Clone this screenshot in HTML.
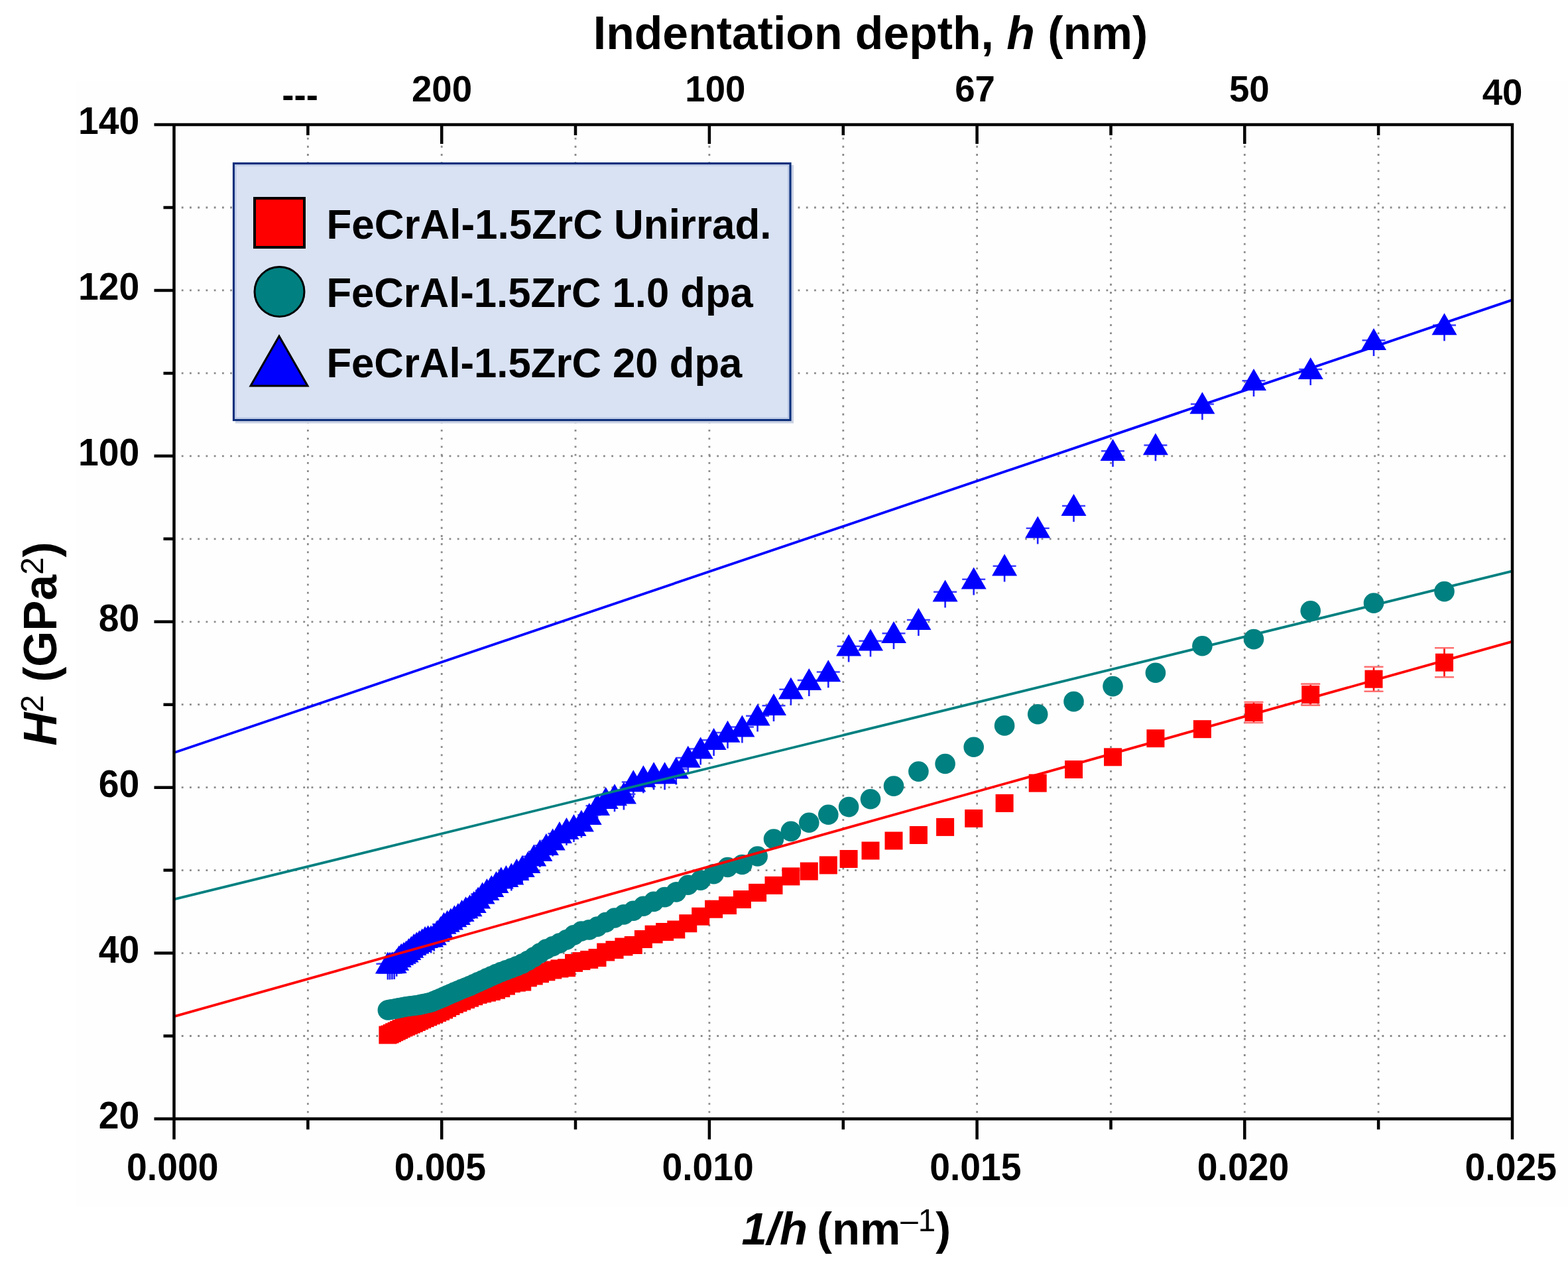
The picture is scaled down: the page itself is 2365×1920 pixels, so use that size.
<!DOCTYPE html><html><head><meta charset="utf-8"><style>html,body{margin:0;padding:0;background:#fff;}svg{display:block}text{font-family:"Liberation Sans", Arial, sans-serif;font-weight:bold;fill:#000}</style></head><body>
<svg width="2365" height="1920" viewBox="0 0 2365 1920">
<rect x="0" y="0" width="2365" height="1920" fill="#fff"/>
<rect x="114.5" y="122.5" width="2250.5" height="1697.5" fill="#fefefe"/>
<path d="M464.4 195.4V1680M666.2 195.4V1680M868.0 195.4V1680M1069.9 195.4V1680M1271.8 195.4V1680M1473.6 195.4V1680M1675.5 195.4V1680M1877.3 195.4V1680M2079.1 195.4V1680M273.8 1562.5H2272M273.8 1437.6H2272M273.8 1312.6H2272M273.8 1187.7H2272M273.8 1062.7H2272M273.8 937.8H2272M273.8 812.8H2272M273.8 687.8H2272M273.8 562.9H2272M273.8 437.9H2272M273.8 313.0H2272" stroke="#8a8a8a" stroke-width="2.8" stroke-dasharray="2.8 9.434" fill="none"/>
<path d="M2178.5 977.2V1021.2M2072.0 1005.7V1042.7M1976.7 1031.6V1063.6M1891.0 1059.0V1090.0" stroke="#ff0000" stroke-width="2.6" fill="none"/>
<path d="M2164.0 977.2H2193.0M2164.0 1021.2H2193.0M2057.5 1005.7H2086.5M2057.5 1042.7H2086.5M1962.2 1031.6H1991.2M1962.2 1063.6H1991.2M1876.5 1059.0H1905.5M1876.5 1090.0H1905.5" stroke="#ff7070" stroke-width="2.6" fill="none"/>
<g fill="#ff0000"><rect x="571.4" y="1547.5" width="27.0" height="27.0"/><rect x="574.6" y="1546.5" width="27.0" height="27.0"/><rect x="577.9" y="1544.9" width="27.0" height="27.0"/><rect x="581.2" y="1543.2" width="27.0" height="27.0"/><rect x="584.7" y="1541.6" width="27.0" height="27.0"/><rect x="588.2" y="1539.9" width="27.0" height="27.0"/><rect x="591.7" y="1538.1" width="27.0" height="27.0"/><rect x="595.4" y="1536.4" width="27.0" height="27.0"/><rect x="599.1" y="1534.8" width="27.0" height="27.0"/><rect x="602.9" y="1533.2" width="27.0" height="27.0"/><rect x="606.8" y="1531.5" width="27.0" height="27.0"/><rect x="610.8" y="1529.8" width="27.0" height="27.0"/><rect x="614.8" y="1528.0" width="27.0" height="27.0"/><rect x="619.0" y="1526.1" width="27.0" height="27.0"/><rect x="623.2" y="1524.1" width="27.0" height="27.0"/><rect x="627.6" y="1522.1" width="27.0" height="27.0"/><rect x="632.1" y="1520.2" width="27.0" height="27.0"/><rect x="636.6" y="1518.2" width="27.0" height="27.0"/><rect x="641.3" y="1516.2" width="27.0" height="27.0"/><rect x="646.1" y="1514.1" width="27.0" height="27.0"/><rect x="651.0" y="1512.0" width="27.0" height="27.0"/><rect x="656.0" y="1509.5" width="27.0" height="27.0"/><rect x="661.1" y="1506.8" width="27.0" height="27.0"/><rect x="666.4" y="1504.0" width="27.0" height="27.0"/><rect x="671.9" y="1501.2" width="27.0" height="27.0"/><rect x="677.4" y="1498.9" width="27.0" height="27.0"/><rect x="683.1" y="1496.5" width="27.0" height="27.0"/><rect x="689.0" y="1494.1" width="27.0" height="27.0"/><rect x="695.0" y="1491.7" width="27.0" height="27.0"/><rect x="701.2" y="1489.2" width="27.0" height="27.0"/><rect x="707.6" y="1486.8" width="27.0" height="27.0"/><rect x="714.1" y="1485.2" width="27.0" height="27.0"/><rect x="720.9" y="1483.6" width="27.0" height="27.0"/><rect x="727.8" y="1481.9" width="27.0" height="27.0"/><rect x="735.0" y="1479.7" width="27.0" height="27.0"/><rect x="742.3" y="1477.1" width="27.0" height="27.0"/><rect x="749.9" y="1473.6" width="27.0" height="27.0"/><rect x="757.8" y="1470.0" width="27.0" height="27.0"/><rect x="765.8" y="1468.6" width="27.0" height="27.0"/><rect x="774.2" y="1467.5" width="27.0" height="27.0"/><rect x="782.8" y="1461.3" width="27.0" height="27.0"/><rect x="791.7" y="1458.5" width="27.0" height="27.0"/><rect x="800.9" y="1455.2" width="27.0" height="27.0"/><rect x="810.4" y="1452.3" width="27.0" height="27.0"/><rect x="820.2" y="1449.5" width="27.0" height="27.0"/><rect x="830.4" y="1447.4" width="27.0" height="27.0"/><rect x="841.0" y="1446.2" width="27.0" height="27.0"/><rect x="852.0" y="1438.9" width="27.0" height="27.0"/><rect x="863.4" y="1436.1" width="27.0" height="27.0"/><rect x="875.2" y="1433.9" width="27.0" height="27.0"/><rect x="887.5" y="1431.0" width="27.0" height="27.0"/><rect x="900.2" y="1422.5" width="27.0" height="27.0"/><rect x="913.5" y="1419.0" width="27.0" height="27.0"/><rect x="927.4" y="1414.5" width="27.0" height="27.0"/><rect x="941.8" y="1412.0" width="27.0" height="27.0"/><rect x="956.9" y="1403.0" width="27.0" height="27.0"/><rect x="972.6" y="1395.7" width="27.0" height="27.0"/><rect x="989.1" y="1392.0" width="27.0" height="27.0"/><rect x="1006.3" y="1388.5" width="27.0" height="27.0"/><rect x="1024.3" y="1379.2" width="27.0" height="27.0"/><rect x="1043.2" y="1368.7" width="27.0" height="27.0"/><rect x="1063.1" y="1357.7" width="27.0" height="27.0"/><rect x="1084.0" y="1352.1" width="27.0" height="27.0"/><rect x="1105.9" y="1343.0" width="27.0" height="27.0"/><rect x="1129.1" y="1332.9" width="27.0" height="27.0"/><rect x="1153.5" y="1321.9" width="27.0" height="27.0"/><rect x="1179.4" y="1308.4" width="27.0" height="27.0"/><rect x="1206.8" y="1300.6" width="27.0" height="27.0"/><rect x="1235.8" y="1291.4" width="27.0" height="27.0"/><rect x="1266.6" y="1282.0" width="27.0" height="27.0"/><rect x="1299.5" y="1269.5" width="27.0" height="27.0"/><rect x="1334.5" y="1254.5" width="27.0" height="27.0"/><rect x="1371.9" y="1246.0" width="27.0" height="27.0"/><rect x="1412.1" y="1233.9" width="27.0" height="27.0"/><rect x="1455.2" y="1220.9" width="27.0" height="27.0"/><rect x="1501.6" y="1197.9" width="27.0" height="27.0"/><rect x="1551.7" y="1167.6" width="27.0" height="27.0"/><rect x="1606.0" y="1147.0" width="27.0" height="27.0"/><rect x="1665.0" y="1128.3" width="27.0" height="27.0"/><rect x="1729.4" y="1100.2" width="27.0" height="27.0"/><rect x="1799.9" y="1086.2" width="27.0" height="27.0"/><rect x="1877.5" y="1061.0" width="27.0" height="27.0"/><rect x="1963.2" y="1034.1" width="27.0" height="27.0"/><rect x="2058.5" y="1010.7" width="27.0" height="27.0"/><rect x="2165.0" y="985.7" width="27.0" height="27.0"/></g>
<g fill="#008080"><circle cx="584.9" cy="1523.5" r="15.3"/><circle cx="588.1" cy="1522.9" r="15.3"/><circle cx="591.4" cy="1522.3" r="15.3"/><circle cx="594.7" cy="1521.7" r="15.3"/><circle cx="598.2" cy="1521.1" r="15.3"/><circle cx="601.7" cy="1520.4" r="15.3"/><circle cx="605.2" cy="1519.8" r="15.3"/><circle cx="608.9" cy="1519.0" r="15.3"/><circle cx="612.6" cy="1518.3" r="15.3"/><circle cx="616.4" cy="1517.7" r="15.3"/><circle cx="620.3" cy="1517.2" r="15.3"/><circle cx="624.3" cy="1516.7" r="15.3"/><circle cx="628.3" cy="1516.2" r="15.3"/><circle cx="632.5" cy="1515.6" r="15.3"/><circle cx="636.7" cy="1514.6" r="15.3"/><circle cx="641.1" cy="1513.7" r="15.3"/><circle cx="645.6" cy="1512.7" r="15.3"/><circle cx="650.1" cy="1511.7" r="15.3"/><circle cx="654.8" cy="1509.8" r="15.3"/><circle cx="659.6" cy="1507.8" r="15.3"/><circle cx="664.5" cy="1505.8" r="15.3"/><circle cx="669.5" cy="1503.6" r="15.3"/><circle cx="674.6" cy="1501.3" r="15.3"/><circle cx="679.9" cy="1499.0" r="15.3"/><circle cx="685.4" cy="1496.6" r="15.3"/><circle cx="690.9" cy="1494.2" r="15.3"/><circle cx="696.6" cy="1491.8" r="15.3"/><circle cx="702.5" cy="1489.5" r="15.3"/><circle cx="708.5" cy="1487.1" r="15.3"/><circle cx="714.7" cy="1484.3" r="15.3"/><circle cx="721.1" cy="1481.4" r="15.3"/><circle cx="727.6" cy="1478.5" r="15.3"/><circle cx="734.4" cy="1475.4" r="15.3"/><circle cx="741.3" cy="1472.3" r="15.3"/><circle cx="748.5" cy="1469.1" r="15.3"/><circle cx="755.8" cy="1466.1" r="15.3"/><circle cx="763.4" cy="1463.2" r="15.3"/><circle cx="771.3" cy="1460.3" r="15.3"/><circle cx="779.3" cy="1457.2" r="15.3"/><circle cx="787.7" cy="1453.6" r="15.3"/><circle cx="796.3" cy="1449.0" r="15.3"/><circle cx="805.2" cy="1443.6" r="15.3"/><circle cx="814.4" cy="1437.6" r="15.3"/><circle cx="823.9" cy="1431.6" r="15.3"/><circle cx="833.7" cy="1427.2" r="15.3"/><circle cx="843.9" cy="1422.6" r="15.3"/><circle cx="854.5" cy="1417.4" r="15.3"/><circle cx="865.5" cy="1410.4" r="15.3"/><circle cx="876.9" cy="1404.5" r="15.3"/><circle cx="888.7" cy="1402.4" r="15.3"/><circle cx="901.0" cy="1397.6" r="15.3"/><circle cx="913.7" cy="1391.1" r="15.3"/><circle cx="927.0" cy="1384.5" r="15.3"/><circle cx="940.9" cy="1379.4" r="15.3"/><circle cx="955.3" cy="1373.8" r="15.3"/><circle cx="970.4" cy="1366.7" r="15.3"/><circle cx="986.1" cy="1359.9" r="15.3"/><circle cx="1002.6" cy="1353.1" r="15.3"/><circle cx="1019.8" cy="1345.4" r="15.3"/><circle cx="1037.8" cy="1334.7" r="15.3"/><circle cx="1056.7" cy="1327.6" r="15.3"/><circle cx="1076.6" cy="1318.3" r="15.3"/><circle cx="1097.5" cy="1308.0" r="15.3"/><circle cx="1119.4" cy="1304.0" r="15.3"/><circle cx="1142.6" cy="1291.5" r="15.3"/><circle cx="1167.0" cy="1265.5" r="15.3"/><circle cx="1192.9" cy="1253.9" r="15.3"/><circle cx="1220.3" cy="1240.8" r="15.3"/><circle cx="1249.3" cy="1228.7" r="15.3"/><circle cx="1280.1" cy="1217.1" r="15.3"/><circle cx="1313.0" cy="1205.3" r="15.3"/><circle cx="1348.0" cy="1185.6" r="15.3"/><circle cx="1385.4" cy="1163.6" r="15.3"/><circle cx="1425.6" cy="1152.0" r="15.3"/><circle cx="1468.7" cy="1126.8" r="15.3"/><circle cx="1515.1" cy="1094.4" r="15.3"/><circle cx="1565.2" cy="1077.2" r="15.3"/><circle cx="1619.5" cy="1058.1" r="15.3"/><circle cx="1678.5" cy="1035.1" r="15.3"/><circle cx="1742.9" cy="1014.7" r="15.3"/><circle cx="1813.4" cy="974.3" r="15.3"/><circle cx="1891.0" cy="964.1" r="15.3"/><circle cx="1976.7" cy="921.3" r="15.3"/><circle cx="2072.0" cy="909.6" r="15.3"/><circle cx="2178.5" cy="892.1" r="15.3"/></g>
<path d="M2178.5 488.8V514.3M2072.0 511.6V537.1M1976.7 555.4V580.9M1891.0 572.6V598.1M1813.4 607.8V633.3M1742.9 669.7V695.2M1678.5 678.5V704.0M1619.5 761.4V786.9M1565.2 795.0V820.5M1515.1 852.0V877.5M1468.7 872.0V897.5M1425.6 891.0V916.5M1385.4 933.4V958.9M1348.0 953.5V979.0M1313.0 965.0V990.5M1280.1 973.1V998.6M1249.3 1011.8V1037.3M1220.3 1024.4V1049.9M1192.9 1038.0V1063.5M1167.0 1062.6V1088.1M1142.6 1078.1V1103.6M1119.4 1094.9V1120.4M1097.5 1103.3V1128.8M1076.6 1114.6V1140.1M1056.7 1127.9V1153.4M1037.8 1141.2V1166.7M1019.8 1158.0V1183.5M1002.6 1165.8V1191.3M986.1 1165.8V1191.3M970.4 1170.7V1196.2M955.3 1177.7V1203.2M940.9 1196.0V1221.5M927.0 1198.7V1224.2M913.7 1203.5V1229.0M901.0 1213.5V1239.0M888.7 1227.5V1253.0M876.9 1238.0V1263.5M865.5 1244.5V1270.0M854.5 1249.5V1275.0M843.9 1255.5V1281.0M833.7 1266.0V1291.5M823.9 1273.5V1299.0M814.4 1282.5V1308.0M805.2 1290.0V1315.5M796.3 1300.5V1326.0M787.7 1306.5V1332.0M779.3 1311.6V1337.1M771.3 1318.0V1343.5M763.4 1321.5V1347.0M755.8 1324.1V1349.6M748.5 1330.6V1356.1M741.3 1336.5V1362.0M734.4 1341.4V1366.9M727.6 1346.9V1372.4M721.1 1353.9V1379.4M714.7 1360.6V1386.1M708.5 1365.8V1391.3M702.5 1368.8V1394.3M696.6 1373.5V1399.0M690.9 1378.4V1403.9M685.4 1381.8V1407.3M679.9 1386.0V1411.5M674.6 1389.2V1414.7M669.5 1392.2V1417.7M664.5 1398.5V1424.0M659.6 1404.1V1429.6M654.8 1409.1V1434.6M650.1 1412.0V1437.5M645.6 1412.0V1437.5M641.1 1413.4V1438.9M636.7 1416.7V1442.2M632.5 1419.5V1445.0M628.3 1422.0V1447.5M624.3 1424.6V1450.1M620.3 1428.2V1453.7M616.4 1431.6V1457.1M612.6 1435.0V1460.5M608.9 1437.2V1462.7M605.2 1439.3V1464.8M601.7 1442.4V1467.9M598.2 1447.2V1472.7M594.7 1451.6V1477.1M591.4 1451.7V1477.2M588.1 1451.9V1477.4M584.9 1452.0V1477.5" stroke="#2020ff" stroke-width="2.6" fill="none"/>
<path d="M2161.0 490.5H2196.0M2054.5 513.3H2089.5M1959.2 557.1H1994.2M1873.5 574.3H1908.5M1795.9 609.5H1830.9M1725.4 671.4H1760.4M1661.0 680.2H1696.0M1602.0 763.1H1637.0M1547.7 796.7H1582.7M1497.6 853.7H1532.6M1451.2 873.7H1486.2M1408.1 892.7H1443.1M1367.9 935.1H1402.9M1330.5 955.2H1365.5M1295.5 966.7H1330.5M1262.6 974.8H1297.6M1231.8 1013.5H1266.8M1202.8 1026.1H1237.8M1175.4 1039.7H1210.4M1149.5 1064.3H1184.5M1125.1 1079.8H1160.1M1101.9 1096.6H1136.9M1080.0 1105.0H1115.0M1059.1 1116.3H1094.1M1039.2 1129.6H1074.2M1020.3 1142.9H1055.3M1002.3 1159.7H1037.3M985.1 1167.5H1020.1M968.6 1167.5H1003.6M952.9 1172.4H987.9M937.8 1179.4H972.8M923.4 1197.7H958.4M909.5 1200.4H944.5M896.2 1205.2H931.2M883.5 1215.2H918.5M871.2 1229.2H906.2M859.4 1239.7H894.4M848.0 1246.2H883.0M837.0 1251.2H872.0M826.4 1257.2H861.4M816.2 1267.7H851.2M806.4 1275.2H841.4M796.9 1284.2H831.9M787.7 1291.7H822.7M778.8 1302.2H813.8M770.2 1308.2H805.2M761.8 1313.3H796.8M753.8 1319.7H788.8M745.9 1323.2H780.9M738.3 1325.8H773.3M731.0 1332.3H766.0M723.8 1338.2H758.8M716.9 1343.1H751.9M710.1 1348.6H745.1M703.6 1355.6H738.6M697.2 1362.3H732.2M691.0 1367.5H726.0M685.0 1370.5H720.0M679.1 1375.2H714.1M673.4 1380.1H708.4M667.9 1383.5H702.9M662.4 1387.7H697.4M657.1 1390.9H692.1M652.0 1393.9H687.0M647.0 1400.2H682.0M642.1 1405.8H677.1M637.3 1410.8H672.3M632.6 1413.7H667.6M628.1 1413.7H663.1M623.6 1415.1H658.6M619.2 1418.4H654.2M615.0 1421.2H650.0M610.8 1423.7H645.8M606.8 1426.3H641.8M602.8 1429.9H637.8M598.9 1433.3H633.9M595.1 1436.7H630.1M591.4 1438.9H626.4M587.7 1441.0H622.7M584.2 1444.1H619.2M580.7 1448.9H615.7M577.2 1453.3H612.2M573.9 1453.4H608.9M570.6 1453.6H605.6M567.4 1453.7H602.4" stroke="#4040ff" stroke-width="2.5" fill="none"/>
<g fill="#0000ff"><polygon points="584.9,1435.5 603.9,1468.5 565.9,1468.5"/><polygon points="588.1,1435.4 607.1,1468.4 569.1,1468.4"/><polygon points="591.4,1435.2 610.4,1468.2 572.4,1468.2"/><polygon points="594.7,1435.1 613.7,1468.1 575.7,1468.1"/><polygon points="598.2,1430.7 617.2,1463.7 579.2,1463.7"/><polygon points="601.7,1425.9 620.7,1458.9 582.7,1458.9"/><polygon points="605.2,1422.8 624.2,1455.8 586.2,1455.8"/><polygon points="608.9,1420.7 627.9,1453.7 589.9,1453.7"/><polygon points="612.6,1418.5 631.6,1451.5 593.6,1451.5"/><polygon points="616.4,1415.1 635.4,1448.1 597.4,1448.1"/><polygon points="620.3,1411.7 639.3,1444.7 601.3,1444.7"/><polygon points="624.3,1408.1 643.3,1441.1 605.3,1441.1"/><polygon points="628.3,1405.5 647.3,1438.5 609.3,1438.5"/><polygon points="632.5,1403.0 651.5,1436.0 613.5,1436.0"/><polygon points="636.7,1400.2 655.7,1433.2 617.7,1433.2"/><polygon points="641.1,1396.9 660.1,1429.9 622.1,1429.9"/><polygon points="645.6,1395.5 664.6,1428.5 626.6,1428.5"/><polygon points="650.1,1395.5 669.1,1428.5 631.1,1428.5"/><polygon points="654.8,1392.6 673.8,1425.6 635.8,1425.6"/><polygon points="659.6,1387.6 678.6,1420.6 640.6,1420.6"/><polygon points="664.5,1382.0 683.5,1415.0 645.5,1415.0"/><polygon points="669.5,1375.7 688.5,1408.7 650.5,1408.7"/><polygon points="674.6,1372.7 693.6,1405.7 655.6,1405.7"/><polygon points="679.9,1369.5 698.9,1402.5 660.9,1402.5"/><polygon points="685.4,1365.3 704.4,1398.3 666.4,1398.3"/><polygon points="690.9,1361.9 709.9,1394.9 671.9,1394.9"/><polygon points="696.6,1357.0 715.6,1390.0 677.6,1390.0"/><polygon points="702.5,1352.3 721.5,1385.3 683.5,1385.3"/><polygon points="708.5,1349.3 727.5,1382.3 689.5,1382.3"/><polygon points="714.7,1344.1 733.7,1377.1 695.7,1377.1"/><polygon points="721.1,1337.4 740.1,1370.4 702.1,1370.4"/><polygon points="727.6,1330.4 746.6,1363.4 708.6,1363.4"/><polygon points="734.4,1324.9 753.4,1357.9 715.4,1357.9"/><polygon points="741.3,1320.0 760.3,1353.0 722.3,1353.0"/><polygon points="748.5,1314.1 767.5,1347.1 729.5,1347.1"/><polygon points="755.8,1307.6 774.8,1340.6 736.8,1340.6"/><polygon points="763.4,1305.0 782.4,1338.0 744.4,1338.0"/><polygon points="771.3,1301.5 790.3,1334.5 752.3,1334.5"/><polygon points="779.3,1295.1 798.3,1328.1 760.3,1328.1"/><polygon points="787.7,1290.0 806.7,1323.0 768.7,1323.0"/><polygon points="796.3,1284.0 815.3,1317.0 777.3,1317.0"/><polygon points="805.2,1273.5 824.2,1306.5 786.2,1306.5"/><polygon points="814.4,1266.0 833.4,1299.0 795.4,1299.0"/><polygon points="823.9,1257.0 842.9,1290.0 804.9,1290.0"/><polygon points="833.7,1249.5 852.7,1282.5 814.7,1282.5"/><polygon points="843.9,1239.0 862.9,1272.0 824.9,1272.0"/><polygon points="854.5,1233.0 873.5,1266.0 835.5,1266.0"/><polygon points="865.5,1228.0 884.5,1261.0 846.5,1261.0"/><polygon points="876.9,1221.5 895.9,1254.5 857.9,1254.5"/><polygon points="888.7,1211.0 907.7,1244.0 869.7,1244.0"/><polygon points="901.0,1197.0 920.0,1230.0 882.0,1230.0"/><polygon points="913.7,1187.0 932.7,1220.0 894.7,1220.0"/><polygon points="927.0,1182.2 946.0,1215.2 908.0,1215.2"/><polygon points="940.9,1179.5 959.9,1212.5 921.9,1212.5"/><polygon points="955.3,1161.2 974.3,1194.2 936.3,1194.2"/><polygon points="970.4,1154.2 989.4,1187.2 951.4,1187.2"/><polygon points="986.1,1149.3 1005.1,1182.3 967.1,1182.3"/><polygon points="1002.6,1149.3 1021.6,1182.3 983.6,1182.3"/><polygon points="1019.8,1141.5 1038.8,1174.5 1000.8,1174.5"/><polygon points="1037.8,1124.7 1056.8,1157.7 1018.8,1157.7"/><polygon points="1056.7,1111.4 1075.7,1144.4 1037.7,1144.4"/><polygon points="1076.6,1098.1 1095.6,1131.1 1057.6,1131.1"/><polygon points="1097.5,1086.8 1116.5,1119.8 1078.5,1119.8"/><polygon points="1119.4,1078.4 1138.4,1111.4 1100.4,1111.4"/><polygon points="1142.6,1061.6 1161.6,1094.6 1123.6,1094.6"/><polygon points="1167.0,1046.1 1186.0,1079.1 1148.0,1079.1"/><polygon points="1192.9,1021.5 1211.9,1054.5 1173.9,1054.5"/><polygon points="1220.3,1007.9 1239.3,1040.9 1201.3,1040.9"/><polygon points="1249.3,995.3 1268.3,1028.3 1230.3,1028.3"/><polygon points="1280.1,956.6 1299.1,989.6 1261.1,989.6"/><polygon points="1313.0,948.5 1332.0,981.5 1294.0,981.5"/><polygon points="1348.0,937.0 1367.0,970.0 1329.0,970.0"/><polygon points="1385.4,916.9 1404.4,949.9 1366.4,949.9"/><polygon points="1425.6,874.5 1444.6,907.5 1406.6,907.5"/><polygon points="1468.7,855.5 1487.7,888.5 1449.7,888.5"/><polygon points="1515.1,835.5 1534.1,868.5 1496.1,868.5"/><polygon points="1565.2,778.5 1584.2,811.5 1546.2,811.5"/><polygon points="1619.5,744.9 1638.5,777.9 1600.5,777.9"/><polygon points="1678.5,662.0 1697.5,695.0 1659.5,695.0"/><polygon points="1742.9,653.2 1761.9,686.2 1723.9,686.2"/><polygon points="1813.4,591.3 1832.4,624.3 1794.4,624.3"/><polygon points="1891.0,556.1 1910.0,589.1 1872.0,589.1"/><polygon points="1976.7,538.9 1995.7,571.9 1957.7,571.9"/><polygon points="2072.0,495.1 2091.0,528.1 2053.0,528.1"/><polygon points="2178.5,472.3 2197.5,505.3 2159.5,505.3"/></g>
<line x1="262.5" y1="1135.2" x2="2281.0" y2="452.4" stroke="#0000ff" stroke-width="3.8"/>
<line x1="262.5" y1="1356.4" x2="2281.0" y2="861.4" stroke="#008080" stroke-width="3.8"/>
<line x1="262.5" y1="1533.1" x2="2281.0" y2="967.6" stroke="#ff0000" stroke-width="3.8"/>
<path d="M262.5 188.0V1687.5M232.5 1687.5H2281.0M232.5 188.0H2281.0M2281.0 185.8V1687.5M232.5 1687.5H262.5M246.5 1562.5H262.5M232.5 1437.6H262.5M246.5 1312.6H262.5M232.5 1187.7H262.5M246.5 1062.7H262.5M232.5 937.8H262.5M246.5 812.8H262.5M232.5 687.8H262.5M246.5 562.9H262.5M232.5 437.9H262.5M246.5 313.0H262.5M232.5 188.0H262.5M262.5 1687.5V1718.5M464.4 1687.5V1703.5M666.2 1687.5V1718.5M868.0 1687.5V1703.5M1069.9 1687.5V1718.5M1271.8 1687.5V1703.5M1473.6 1687.5V1718.5M1675.5 1687.5V1703.5M1877.3 1687.5V1718.5M2079.1 1687.5V1703.5M2281.0 1687.5V1718.5M464.4 188.0V204.0M666.2 188.0V217.0M868.0 188.0V204.0M1069.9 188.0V217.0M1271.8 188.0V204.0M1473.6 188.0V217.0M1675.5 188.0V204.0M1877.3 188.0V217.0M2079.1 188.0V204.0" stroke="#000" stroke-width="4.5" fill="none" stroke-linecap="butt"/>
<rect x="355" y="249" width="842" height="389.5" fill="#c9d1e3"/>
<rect x="352.5" y="246.5" width="839.5" height="387" fill="#d9e2f3" stroke="#0c2f7c" stroke-width="3.2"/>
<rect x="355.6" y="249.6" width="833.3" height="380.8" fill="none" stroke="#b7c6e4" stroke-width="1.6"/>
<rect x="384" y="299" width="75" height="74" fill="#ff0000" stroke="#000" stroke-width="4"/>
<circle cx="421.5" cy="440" r="37.5" fill="#008080" stroke="#000" stroke-width="3"/>
<polygon points="421,507 464,582 378,582" fill="#0000ff" stroke="#000" stroke-width="3" stroke-linejoin="miter"/>
<text transform="translate(210.2 1701.5) scale(1 1.03)" font-size="55.3" text-anchor="end">20</text>
<text transform="translate(210.2 1451.6) scale(1 1.03)" font-size="55.3" text-anchor="end">40</text>
<text transform="translate(210.2 1201.7) scale(1 1.03)" font-size="55.3" text-anchor="end">60</text>
<text transform="translate(210.2 951.8) scale(1 1.03)" font-size="55.3" text-anchor="end">80</text>
<text transform="translate(210.2 701.8) scale(1 1.03)" font-size="55.3" text-anchor="end">100</text>
<text transform="translate(210.2 451.9) scale(1 1.03)" font-size="55.3" text-anchor="end">120</text>
<text transform="translate(210.2 202.0) scale(1 1.03)" font-size="55.3" text-anchor="end">140</text>
<text transform="translate(260.2 1779.8) scale(1 1.03)" font-size="55.3" text-anchor="middle">0.000</text>
<text transform="translate(663.9 1779.8) scale(1 1.03)" font-size="55.3" text-anchor="middle">0.005</text>
<text transform="translate(1067.6 1779.8) scale(1 1.03)" font-size="55.3" text-anchor="middle">0.010</text>
<text transform="translate(1471.3 1779.8) scale(1 1.03)" font-size="55.3" text-anchor="middle">0.015</text>
<text transform="translate(1875.0 1779.8) scale(1 1.03)" font-size="55.3" text-anchor="middle">0.020</text>
<text transform="translate(2278.7 1779.8) scale(1 1.03)" font-size="55.3" text-anchor="middle">0.025</text>
<text transform="translate(452.6 161.6) scale(1 1.03)" font-size="54.6" text-anchor="middle">---</text>
<text transform="translate(666.5 153.4) scale(1 1.03)" font-size="54.6" text-anchor="middle">200</text>
<text transform="translate(1124.4 153.4) scale(1 1.03)" font-size="54.6" text-anchor="end">100</text>
<text transform="translate(1470.5 153.4) scale(1 1.03)" font-size="54.6" text-anchor="middle">67</text>
<text transform="translate(1884.3 153.4) scale(1 1.03)" font-size="54.6" text-anchor="middle">50</text>
<text transform="translate(2266.1 158.0) scale(1 1.03)" font-size="54.6" text-anchor="middle">40</text>
<text transform="translate(894.82 74.1) scale(0.9961 0.9961)" font-size="70">Indentation depth, <tspan font-style="italic">h</tspan> (nm)</text>
<text transform="translate(492.40 359.5) scale(0.9992 1.0142)" font-size="62">FeCrAl-1.5ZrC Unirrad.</text>
<text transform="translate(492.43 463.2) scale(0.9935 1.0084)" font-size="62">FeCrAl-1.5ZrC 1.0 dpa</text>
<text transform="translate(492.42 568.5) scale(0.9944 1.0093)" font-size="62">FeCrAl-1.5ZrC 20 dpa</text>
<text transform="translate(1118.42 1876.5) scale(0.9845 0.9845)" font-size="70"><tspan font-style="italic">1/h</tspan><tspan dx="-0.075em"> (nm</tspan><tspan font-weight="normal" font-size="0.69em" dy="-0.41em">–</tspan><tspan font-weight="normal" font-size="0.69em">1</tspan><tspan dy="0.2829em">)</tspan></text>
<text transform="translate(84.8 1124.79) rotate(-90) scale(0.9905 1.0103)" font-size="70"><tspan font-style="italic">H</tspan><tspan font-weight="normal" font-size="0.69em" dy="-0.41em">2</tspan><tspan dy="0.2829em"> (GPa</tspan><tspan font-weight="normal" font-size="0.69em" dy="-0.41em">2</tspan><tspan dy="0.2829em">)</tspan></text>
</svg></body></html>
